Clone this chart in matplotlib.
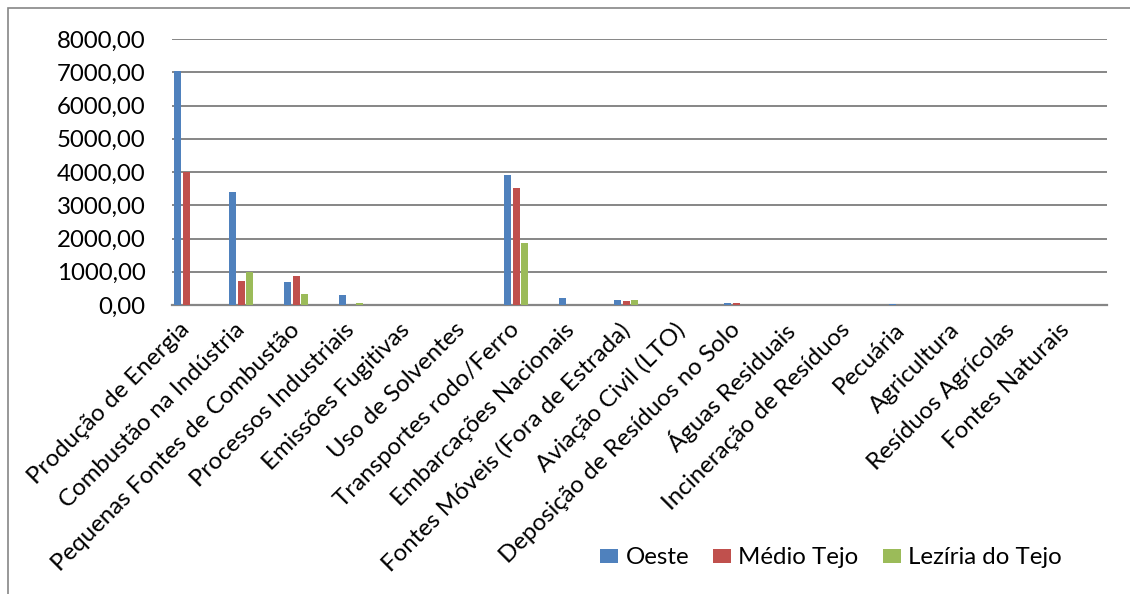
import matplotlib
matplotlib.use("Agg")
import matplotlib.pyplot as plt
from matplotlib.patches import Rectangle
from matplotlib.ticker import FuncFormatter
from matplotlib.transforms import ScaledTranslation
import numpy as np

plt.rcParams['font.family'] = ['Lato', 'DejaVu Sans']

categories = ["Produção de Energia", "Combustão na Indústria", "Pequenas Fontes de Combustão",
              "Processos Industriais", "Emissões Fugitivas", "Uso de Solventes",
              "Transportes rodo/Ferro", "Embarcações Nacionais", "Fontes Móveis (Fora de Estrada)",
              "Aviação Civil (LTO)", "Deposição de Resíduos no Solo", "Águas Residuais",
              "Incineração de Resíduos", "Pecuária", "Agricultura", "Resíduos Agrícolas",
              "Fontes Naturais"]
oeste = [7040, 3400, 690, 300, 0, 0, 3900, 200, 150, 0, 60, 0, 0, 30, 0, 0, 0]
medio_tejo = [4000, 713, 870, 10, 0, 0, 3520, 0, 130, 0, 60, 0, 0, 0, 0, 0, 0]
leziria_tejo = [0, 1000, 320, 60, 0, 0, 1860, 0, 140, 0, 0, 0, 0, 0, 0, 0, 0]
series_names = ["Oeste", "Médio Tejo", "Lezíria do Tejo"]
colors = ["#4F81BD", "#C0504D", "#9BBB59"]
yticks = [0, 1000, 2000, 3000, 4000, 5000, 6000, 7000, 8000]

FS = 17.3
W, H = 1130, 594
fig = plt.figure(figsize=(W/100, H/100), dpi=100)
fig.patches.append(Rectangle((8/W, -0.1), 1.2, (594-8)/H + 0.1, transform=fig.transFigure,
                             fill=False, edgecolor="#868686", linewidth=1.2))
ax = fig.add_axes([172/W, 1-305/H, (1107-172)/W, (305-39)/H])

x = np.arange(len(categories))
bw = 0.15
for k, (vals, c, n) in enumerate(zip([oeste, medio_tejo, leziria_tejo], colors, series_names)):
    ax.bar(x - 0.5 + 0.042 + bw*k, vals, width=bw*0.86, align='edge', color=c,
           edgecolor='none', label=n, zorder=3)

ax.set_xlim(-0.5, len(categories) - 0.5)
ax.set_ylim(0, 8000)
ax.set_yticks(yticks)
ax.yaxis.set_major_formatter(FuncFormatter(lambda v, p: f"{v:.2f}".replace('.', ',')))
ax.grid(axis='y', color='#868686', linewidth=1.4, zorder=0)
for s in ['top', 'right', 'left']:
    ax.spines[s].set_visible(False)
ax.spines['bottom'].set_color('#868686')
ax.spines['bottom'].set_linewidth(1.6)
ax.tick_params(axis='y', length=0, pad=19, labelsize=FS)
ax.tick_params(axis='x', length=0, pad=4)
ax.set_xticks(x)
ax.set_xticklabels(categories, rotation=45, ha='right', rotation_mode='anchor', fontsize=FS)
off = ScaledTranslation(-13/100, -16/100, fig.dpi_scale_trans)
for lab in ax.get_xticklabels():
    lab.set_va('center')
    lab.set_transform(lab.get_transform() + off)

leg = fig.legend(loc='center', bbox_to_anchor=(831/W, 1-558/H), ncol=3, frameon=False,
                 fontsize=FS, handlelength=0.75, handleheight=0.55, handletextpad=0.3,
                 columnspacing=1.0)

fig.savefig("out.png", dpi=100)
